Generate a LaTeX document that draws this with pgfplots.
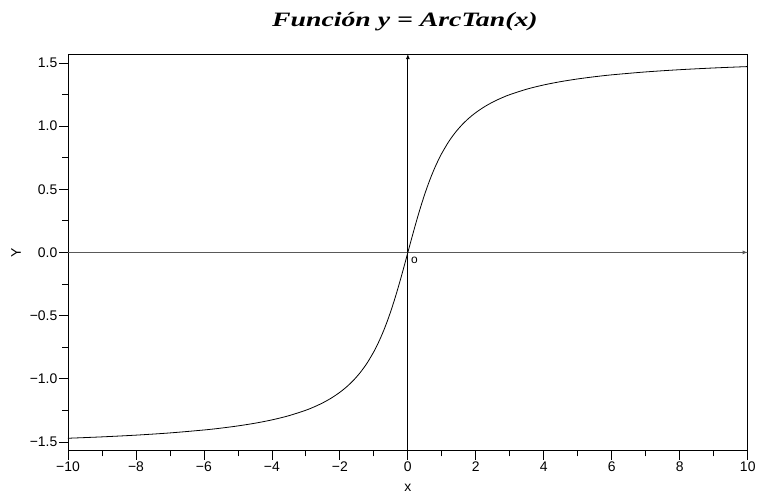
\documentclass[border=0pt]{standalone}
\usepackage{fontspec}
\setmainfont{Liberation Sans}
\newfontfamily\titlefont{Liberation Serif}
\usepackage{pgfplots}
\pgfplotsset{compat=1.18}
\begin{document}
\begin{tikzpicture}
\path (0,0) rectangle (757bp,493bp);
\begin{axis}[
  at={(68bp,42bp)}, anchor=south west,
  scale only axis, width=680bp, height=397bp,
  xmin=-10, xmax=10, ymin=-1.5708, ymax=1.5708,
  xtick={-10,-8,...,10}, minor xtick={-9,-7,...,9},
  xticklabels={−10,−8,−6,−4,−2,0,2,4,6,8,10},
  ytick={-1.5,-1,-0.5,0,0.5,1,1.5}, minor ytick={-1.25,-0.75,-0.25,0.25,0.75,1.25},
  yticklabels={−1.5,−1.0,−0.5,0.0,0.5,1.0,1.5},
  tick pos=left, tick align=outside,
  major tick length=9bp, minor tick length=5.5bp,
  every tick/.style={black, line width=0.8pt},
  tick label style={font=\fontsize{14}{16}\selectfont},
  xticklabel style={inner sep=1.5bp},
  yticklabel style={inner sep=1.5bp},
  axis line style={line width=0.9pt},
  xlabel={x}, ylabel={Y},
  label style={font=\fontsize{14}{16}\selectfont},
  xlabel style={at={(axis description cs:0.5,-0.093)}, anchor=center},
  ylabel style={at={(axis description cs:-0.0765,0.5)}, anchor=center},
  clip=false,
]
\draw[black, line width=0.8pt, -latex] (axis cs:0,-1.5708) -- (axis cs:0,1.5708);
\draw[gray!70!black, line width=0.8pt, -latex] (axis cs:-10,0) -- (axis cs:10,0);
\addplot[black, line width=0.8pt, smooth] coordinates {
(-10,-1.47113) (-9,-1.46014) (-8,-1.44644) (-7,-1.42890) (-6,-1.40565) (-5.5,-1.39094) (-5,-1.37340) (-4.5,-1.35213) (-4,-1.32582) (-3.5,-1.29250) (-3,-1.24905) (-2.75,-1.22203) (-2.5,-1.19029) (-2.25,-1.15257) (-2,-1.10715) (-1.8,-1.06370) (-1.6,-1.01220) (-1.4,-0.95055) (-1.2,-0.87606) (-1,-0.78540) (-0.9,-0.73282) (-0.8,-0.67474) (-0.7,-0.61073) (-0.6,-0.54042) (-0.5,-0.46365) (-0.4,-0.38051) (-0.3,-0.29146) (-0.2,-0.19740) (-0.1,-0.09967) (0,0)
(0.1,0.09967) (0.2,0.19740) (0.3,0.29146) (0.4,0.38051) (0.5,0.46365) (0.6,0.54042) (0.7,0.61073) (0.8,0.67474) (0.9,0.73282) (1,0.78540) (1.2,0.87606) (1.4,0.95055) (1.6,1.01220) (1.8,1.06370) (2,1.10715) (2.25,1.15257) (2.5,1.19029) (2.75,1.22203) (3,1.24905) (3.5,1.29250) (4,1.32582) (4.5,1.35213) (5,1.37340) (5.5,1.39094) (6,1.40565) (7,1.42890) (8,1.44644) (9,1.46014) (10,1.47113)
};
\node[font=\fontsize{12}{14}\selectfont, anchor=north west, inner sep=0pt] at ([xshift=3bp,yshift=-4bp]axis cs:0,0) {o};
\end{axis}
\node[font=\titlefont\bfseries\itshape\fontsize{20.5}{24}\selectfont, anchor=base] at (405bp,466bp) {\scalebox{1.36}[1]{Función y = ArcTan(x)}};
\end{tikzpicture}
\end{document}
